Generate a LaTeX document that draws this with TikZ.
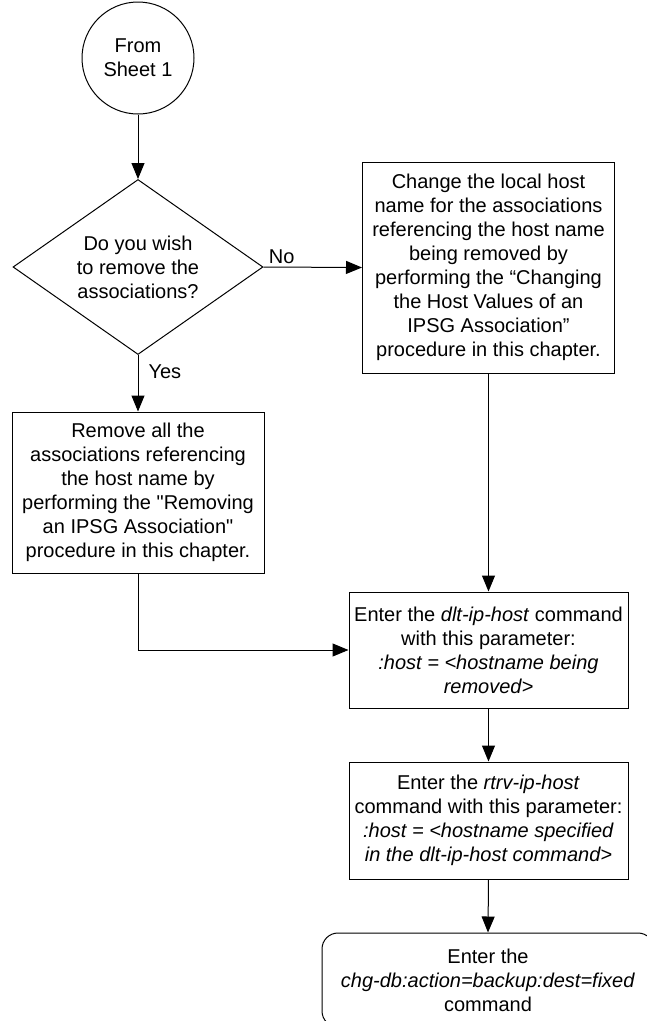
\documentclass[tikz,border=0pt]{standalone}
\usepackage{fontspec}
\setmainfont{Liberation Sans}
\usetikzlibrary{shapes.geometric,arrows.meta}
\begin{document}
\begin{tikzpicture}[x=1pt,y=-1pt,
  every node/.style={font=\fontsize{20}{24}\selectfont, align=center, inner sep=0pt},
  box/.style={draw, line width=1pt, rectangle},
  conn/.style={draw, line width=1pt, -{Triangle[length=16pt,width=13pt]}},
  lbl/.style={font=\fontsize{20}{24}\selectfont}]
\useasboundingbox (0,0) rectangle (647,1021);
\clip (0,0) rectangle (647,1021);
\node[draw, circle, line width=1pt, minimum size=112pt] (start) at (138,58) {From\\Sheet 1};
\node[draw, diamond, line width=1pt, aspect=1.43, minimum width=250pt, minimum height=175pt] (dec) at (138,267) {Do you wish\\to remove the\\associations?};
\node[box, minimum width=252pt, minimum height=211pt] (change) at (488.5,267.5) {Change the local host\\name for the associations\\referencing the host name\\being removed by\\performing the “Changing\\the Host Values of an\\IPSG Association”\\procedure in this chapter.};
\node[box, minimum width=252pt, minimum height=161pt] (remove) at (138,492.5) {Remove all the\\associations referencing\\the host name by\\performing the \textquotedbl Removing\\an IPSG Association\textquotedbl\\procedure in this chapter.};
\node[box, minimum width=279pt, minimum height=116pt] (dlt) at (488.5,650) {Enter the \textit{dlt-ip-host} command\\with this parameter:\\\textit{:host = <hostname being}\\\textit{removed>}};
\node[box, minimum width=279pt, minimum height=117pt] (rtrv) at (488.5,820.5) {Enter the \textit{rtrv-ip-host}\\command with this parameter:\\\textit{:host = <hostname specified}\\\textit{in the dlt-ip-host command>}};
\node[draw, line width=1pt, rounded corners=16pt, minimum width=332pt, minimum height=94pt] (final) at (488,980) {Enter the\\\textit{chg-db:action=backup:dest=fixed}\\command};
\draw[conn] (start) -- (dec);
\draw[conn] (dec.east) -- node[lbl, pos=0.05, anchor=south west, yshift=3pt] {No} (change.west);
\draw[conn] (dec.south) -- node[lbl, pos=0.3, anchor=west, xshift=10pt] {Yes} (remove.north);
\draw[conn] (change.south) -- (dlt.north);
\draw[conn] (remove.south) |- (dlt.west);
\draw[conn] (dlt.south) -- (rtrv.north);
\draw[conn] (rtrv.south) -- (final.north);
\end{tikzpicture}
\end{document}
